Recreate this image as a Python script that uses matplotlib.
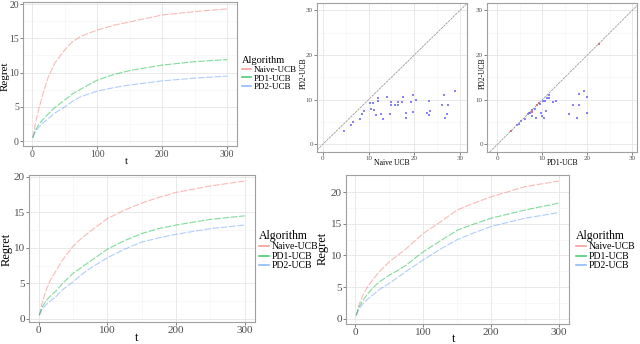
import matplotlib
matplotlib.use("Agg")
import matplotlib.pyplot as plt
from matplotlib.lines import Line2D

plt.rcParams['font.family'] = ['Liberation Serif', 'DejaVu Serif']

# regret curves
t = [1, 5, 10, 17, 25, 35, 50, 62, 75, 100, 125, 150, 175, 200, 250, 300]
algos = ['Naive-UCB', 'PD1-UCB', 'PD2-UCB']
colors = ['#F8766D', '#00BA38', '#619CFF']

top_naive = [0.5, 2.6, 4.6, 7.0, 9.4, 11.4, 13.3, 14.5, 15.3, 16.2, 16.9, 17.4, 17.9, 18.4, 18.9, 19.3]
top_pd1 = [0.5, 1.6, 2.4, 3.2, 4.0, 4.9, 6.0, 6.9, 7.6, 8.9, 9.7, 10.3, 10.7, 11.1, 11.6, 11.9]
top_pd2 = [0.5, 1.4, 2.0, 2.7, 3.3, 4.1, 5.0, 5.8, 6.5, 7.3, 7.8, 8.2, 8.5, 8.8, 9.2, 9.5]

bl_naive = [0.5, 2.2, 3.8, 5.4, 6.7, 8.3, 10.2, 11.3, 12.3, 14.1, 15.3, 16.3, 17.1, 17.8, 18.7, 19.4]
bl_pd1 = [0.5, 1.6, 2.4, 3.2, 3.9, 5.0, 6.4, 7.2, 8.1, 9.8, 11.0, 12.0, 12.7, 13.2, 14.0, 14.5]
bl_pd2 = [0.5, 1.3, 1.9, 2.5, 3.1, 4.1, 5.2, 6.2, 7.1, 8.6, 9.8, 10.8, 11.4, 11.9, 12.7, 13.2]

br_naive = [0.5, 2.1, 3.5, 4.9, 6.1, 7.4, 9.0, 10.0, 11.1, 13.5, 15.3, 17.2, 18.3, 19.3, 20.9, 21.8]
br_pd1 = [0.5, 1.8, 2.7, 3.8, 4.8, 5.8, 6.9, 7.6, 8.5, 10.6, 12.3, 14.0, 15.0, 15.9, 17.2, 18.3]
br_pd2 = [0.5, 1.5, 2.2, 3.0, 3.7, 4.6, 5.6, 6.5, 7.5, 9.3, 11.0, 12.5, 13.6, 14.6, 15.9, 16.8]

# scatter: Naive UCB vs PD2-UCB
naive_x = [4.7, 6.1, 6.7, 8.2, 8.5, 9.0, 10.4, 10.9, 10.5, 11.2, 11.7, 12.0, 12.1,
           12.7, 13.1, 14.0, 14.7, 14.9, 14.9, 15.8, 16.5, 16.5, 17.5, 17.4, 18.1,
           18.2, 19.2, 19.8, 19.8, 20.4, 22.8, 23.3, 23.4, 23.3, 26.0, 26.4, 26.8,
           27.2, 27.3, 28.9]
naive_y = [3.1, 4.4, 4.9, 5.7, 6.8, 7.4, 9.2, 9.2, 7.8, 7.6, 6.6, 10.4, 9.8,
           6.8, 5.7, 10.7, 6.9, 9.4, 8.7, 8.8, 9.4, 8.8, 10.6, 9.5, 7.0,
           5.9, 9.4, 11.1, 7.2, 10.0, 7.1, 9.7, 7.4, 6.5, 8.7, 11.0, 6.0,
           6.9, 8.9, 12.0]

# scatter: PD1-UCB vs PD2-UCB
pd1_x = [4.4, 4.7, 5.3, 6.1, 6.7, 7.1, 7.3, 7.7, 7.8, 8.3, 8.6, 9.4, 9.7, 9.9,
         10.4, 10.8, 10.2, 10.6, 11.1, 11.4, 11.5, 12.3, 13.0, 15.8, 16.8, 17.6,
         18.1, 18.1, 19.3, 19.8, 19.8]
pd1_y = [4.4, 4.6, 5.2, 5.7, 6.7, 7.0, 7.1, 6.3, 7.7, 7.9, 6.0, 9.1, 7.1, 6.4,
         6.0, 7.4, 9.6, 9.6, 10.4, 11.0, 10.4, 9.5, 9.7, 6.9, 8.7, 6.0,
         11.2, 8.9, 12.0, 7.1, 10.7]
tie_x = [3.0, 7.6, 8.9, 9.2, 22.5]
tie_y = [3.1, 7.3, 8.9, 9.3, 22.4]

fig = plt.figure(figsize=(6.4, 3.44), dpi=100)
W, H = 640.0, 344.0


def box(x0, y0, x1, y1):
    return [x0 / W, 1 - y1 / H, (x1 - x0) / W, (y1 - y0) / H]


def label(x, y, s, fs, rot=0):
    fig.text(x / W, 1 - y / H, s, fontsize=fs, ha='center', va='center', rotation=rot)


def style(ax, fs):
    ax.set_facecolor('white')
    ax.grid(True, which='major', color='#E5E5E5', lw=0.6)
    ax.grid(True, which='minor', color='#F3F3F3', lw=0.4)
    ax.set_axisbelow(True)
    for s in ax.spines.values():
        s.set_color('#A0A0A0')
        s.set_linewidth(0.8)
    ax.tick_params(labelsize=fs, colors='#4D4D4D', length=2, width=0.5, pad=1)
    ax.tick_params(which='minor', length=0)


def regret_panel(rect, series, ylim, fs, lfs, xl, yl, leg_xy, tfs, efs):
    ax = fig.add_axes(box(*rect))
    for ys, c in zip(series, colors):
        ax.plot(t, ys, color=c, lw=0.8, alpha=0.5, ls=(0, (6, 1.5)))
    ax.set_xlim(-14, 315)
    ax.set_ylim(*ylim)
    ax.set_xticks([0, 100, 200, 300])
    ax.set_xticks([50, 150, 250], minor=True)
    ax.set_yticks([0, 5, 10, 15, 20])
    ax.set_yticks([2.5, 7.5, 12.5, 17.5], minor=True)
    style(ax, fs)
    label(xl[0], xl[1], 't', lfs)
    label(yl[0], yl[1], 'Regret', lfs, rot=90)
    handles = [Line2D([], [], color=c, lw=1.2, alpha=0.7) for c in colors]
    leg = fig.legend(handles, algos, loc='upper left', bbox_to_anchor=leg_xy,
                     title='Algorithm', fontsize=efs, title_fontsize=tfs,
                     frameon=False, handlelength=1.0, handletextpad=0.3,
                     labelspacing=0.05, borderpad=0, borderaxespad=0)
    leg._legend_box.align = 'left'
    return ax


regret_panel((23, 2, 237, 146), [top_naive, top_pd1, top_pd2], (-0.7, 20.3), 7, 8,
             (126, 162), (5, 76), (242 / W, 1 - 56 / H), 7.5, 6.5)
regret_panel((29, 175, 255, 322), [bl_naive, bl_pd1, bl_pd2], (-0.45, 20.25), 8, 9,
             (137, 338), (7, 249), (259 / W, 1 - 230 / H), 8.5, 7)
regret_panel((346, 175, 569, 324), [br_naive, br_pd1, br_pd2], (-0.85, 22.75), 8, 9,
             (454, 339), (323, 248), (576 / W, 1 - 230 / H), 8.5, 7)


def scatter_panel(rect, xlim, xs, ys, xlabel, xl, yl, ties=None):
    ax = fig.add_axes(box(*rect))
    ax.axline((0, 0), slope=1, color='#9A9A9A', lw=0.6, ls=(0, (3, 1)))
    ax.scatter(xs, ys, s=2.5, marker='s', color='#3333FF', alpha=0.6, lw=0)
    if ties:
        ax.scatter(ties[0], ties[1], s=3, marker='s', color='#E03030', alpha=0.7, lw=0)
    ax.set_xlim(*xlim)
    ax.set_ylim(-1.7, 31.6)
    ax.set_xticks([0, 10, 20, 30])
    ax.set_yticks([0, 10, 20, 30])
    ax.set_xticks([5, 15, 25], minor=True)
    ax.set_yticks([5, 15, 25], minor=True)
    style(ax, 5)
    label(xl[0], xl[1], xlabel, 5.5)
    label(yl[0], yl[1], 'PD2-UCB', 5.5, rot=90)
    return ax


scatter_panel((317, 3, 467, 152), (-1.25, 31.5), naive_x, naive_y, 'Naive UCB',
              (392, 163), (304, 73))
scatter_panel((487, 3, 637, 152), (-2.3, 31.0), pd1_x, pd1_y, 'PD1-UCB',
              (563, 163), (483, 73), ties=(tie_x, tie_y))

fig.savefig('out.png', dpi=100)
